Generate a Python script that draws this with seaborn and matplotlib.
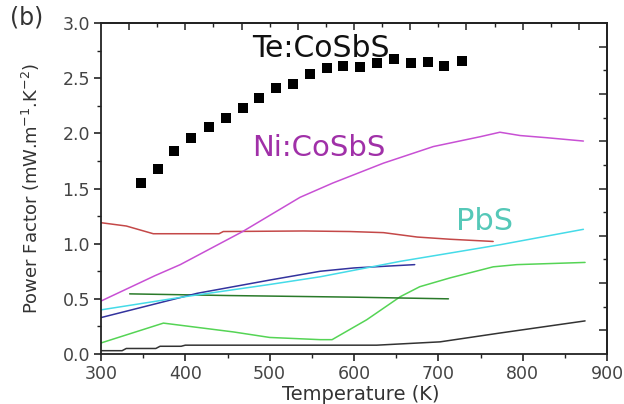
import numpy as np
import pandas as pd
import matplotlib
matplotlib.use("Agg")
import matplotlib.pyplot as plt
import seaborn as sns
from matplotlib.ticker import MultipleLocator, FixedLocator, NullFormatter

# ---- data ----
te_T = [347, 367, 387, 407, 428, 448, 468, 487, 508, 528, 548, 568, 587, 607, 627, 648, 668, 688, 707, 728]
te_PF = [1.55, 1.68, 1.84, 1.96, 2.06, 2.14, 2.23, 2.32, 2.41, 2.45, 2.54, 2.59, 2.61, 2.60, 2.64, 2.67, 2.64, 2.65, 2.61, 2.66]

ni_T = [300, 364, 394, 468, 536, 575, 635, 694, 750, 773, 797, 829, 872]
ni_PF = [0.48, 0.71, 0.81, 1.11, 1.42, 1.55, 1.73, 1.88, 1.97, 2.01, 1.98, 1.96, 1.93]

red_T = [300, 330, 362, 440, 445, 540, 595, 635, 675, 714, 765]
red_PF = [1.19, 1.16, 1.09, 1.09, 1.11, 1.115, 1.11, 1.10, 1.06, 1.04, 1.02]

pbs_T = [300, 400, 500, 560, 655, 773, 872]
pbs_PF = [0.40, 0.52, 0.63, 0.70, 0.84, 0.99, 1.13]

blue_T = [300, 414, 500, 560, 600, 672]
blue_PF = [0.33, 0.55, 0.67, 0.75, 0.78, 0.81]

dgreen_T = [334, 450, 600, 712]
dgreen_PF = [0.545, 0.53, 0.515, 0.50]

lgreen_T = [300, 374, 457, 500, 560, 574, 615, 655, 678, 714, 765, 793, 874]
lgreen_PF = [0.10, 0.28, 0.20, 0.15, 0.13, 0.13, 0.31, 0.52, 0.61, 0.69, 0.79, 0.81, 0.83]

black_T = [300, 325, 330, 365, 370, 395, 400, 580, 627, 702, 773, 874]
black_PF = [0.03, 0.03, 0.05, 0.05, 0.07, 0.07, 0.08, 0.08, 0.08, 0.11, 0.19, 0.30]

x_ticks = [300, 400, 500, 600, 700, 800, 900]
y_ticks = [0.0, 0.5, 1.0, 1.5, 2.0, 2.5, 3.0]

# ---- plot ----
sns.set_style("ticks")
plt.rcParams['font.family'] = ['DejaVu Sans']

fig = plt.figure(figsize=(6.24, 4.04), dpi=100)
ax = fig.add_axes([101/624, 1 - 354/404, (607 - 101)/624, (354 - 23)/404])

lw = 1.1
series = [
    (black_T, black_PF, "#333333"),
    (lgreen_T, lgreen_PF, "#55d455"),
    (dgreen_T, dgreen_PF, "#2a7a2a"),
    (blue_T, blue_PF, "#33339e"),
    (pbs_T, pbs_PF, "#45dbe8"),
    (red_T, red_PF, "#c44848"),
    (ni_T, ni_PF, "#c850d4"),
]
for T, PF, c in series:
    sns.lineplot(x=T, y=PF, color=c, lw=lw, ax=ax, estimator=None, sort=False)

sns.scatterplot(x=te_T, y=te_PF, marker="s", s=48, color="black", edgecolor="black",
                linewidth=0, ax=ax, zorder=5)

ax.set_xlim(300, 900)
ax.set_ylim(0, 3.0)
ax.set_xticks(x_ticks)
ax.set_yticks(y_ticks)
ax.set_yticklabels([f"{v:.1f}" for v in y_ticks])
ax.xaxis.set_minor_locator(MultipleLocator(50))
ax.yaxis.set_minor_locator(MultipleLocator(0.25))

for s in ax.spines.values():
    s.set_visible(True)
    s.set_linewidth(1.3)
    s.set_color("#222222")

ax.tick_params(axis="both", which="major", direction="out", length=5, width=1.2,
               colors="#222222", labelcolor="#444444", labelsize=12.5, pad=3)
ax.tick_params(axis="both", which="minor", direction="out", length=3, width=1.0, colors="#222222")
ax.tick_params(top=False, right=False, which="both")

# decorative top/right ticks
secx = ax.secondary_xaxis("top")
secx.xaxis.set_major_locator(FixedLocator([300 + 100/3*k for k in range(1, 18, 2)]))
secx.xaxis.set_minor_locator(FixedLocator([300 + 100/3*k for k in range(2, 18, 2)]))
secx.xaxis.set_major_formatter(NullFormatter())
secx.tick_params(which="major", direction="in", length=5, width=1.1, colors="#222222")
secx.tick_params(which="minor", direction="in", length=3, width=1.0, colors="#222222")
secx.spines["top"].set_linewidth(1.3)

secy = ax.secondary_yaxis("right")
secy.yaxis.set_major_locator(FixedLocator([3/14*k for k in range(1, 14, 2)]))
secy.yaxis.set_minor_locator(FixedLocator([3/14*k for k in range(2, 14, 2)]))
secy.yaxis.set_major_formatter(NullFormatter())
secy.tick_params(which="major", direction="in", length=6, width=1.1, colors="#222222")
secy.tick_params(which="minor", direction="in", length=3, width=1.0, colors="#222222")
secy.spines["right"].set_linewidth(1.3)

ax.set_xlabel("Temperature (K)", fontsize=14, color="#333333")
ax.set_ylabel("Power Factor (mW.m$^{-1}$.K$^{-2}$)", fontsize=13, color="#333333", labelpad=15)
ax.xaxis.set_label_coords(0.514, -0.093)

ax.text(561, 2.765, "Te:CoSbS", fontsize=21.5, color="#111111", ha="center", va="center")
ax.text(558, 1.87, "Ni:CoSbS", fontsize=21, color="#a030a8", ha="center", va="center")
ax.text(755, 1.20, "PbS", fontsize=22, color="#55c8b8", ha="center", va="center")
fig.text(10/624, 1 - 17/404, "(b)", fontsize=17, color="#333333", ha="left", va="center")

fig.savefig("out.png", dpi=100, facecolor="white")
